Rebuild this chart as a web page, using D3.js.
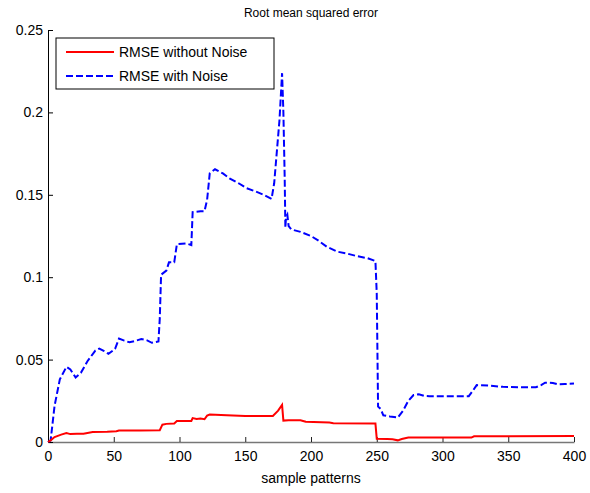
<!DOCTYPE html>
<html>
<head>
<meta charset="utf-8">
<script src="https://cdn.jsdelivr.net/npm/d3@7"></script>
<style>
  body { margin: 0; background: #fff; }
  svg { font-family: "Liberation Sans", Arial, sans-serif; }
</style>
</head>
<body>
<div id="chart"></div>
<script>
// sample index / RMSE pairs
const noiseX = [0, 2, 5, 9, 14, 17, 21, 25, 30, 36, 39, 42, 46, 51, 54, 58, 62, 67, 71, 75, 79, 84, 85, 86, 90, 92, 96, 98, 105, 109, 110, 116, 119, 121, 123, 127, 133, 138, 145, 151, 158, 164, 170, 172, 176, 178, 179, 180, 180.5, 181, 182, 183, 185, 192, 200, 206, 212, 220, 227, 235, 243, 249, 250, 251, 253, 255, 260, 266, 270, 274, 278, 282, 286, 290, 300, 310, 320, 323, 326, 335, 346, 360, 371, 375, 378, 384, 388, 393, 400];
const noiseY = [0, 0.001, 0.022, 0.038, 0.0456, 0.044, 0.0392, 0.042, 0.049, 0.0555, 0.0567, 0.0555, 0.0535, 0.0565, 0.0628, 0.0615, 0.0605, 0.0615, 0.0625, 0.0618, 0.0602, 0.061, 0.075, 0.1015, 0.104, 0.109, 0.109, 0.12, 0.1205, 0.1195, 0.1395, 0.14, 0.14, 0.147, 0.163, 0.1655, 0.163, 0.16, 0.157, 0.154, 0.152, 0.15, 0.1475, 0.157, 0.195, 0.2238, 0.2, 0.16, 0.13, 0.1365, 0.138, 0.131, 0.129, 0.1275, 0.125, 0.122, 0.1185, 0.1155, 0.1144, 0.1128, 0.1115, 0.1098, 0.09, 0.0215, 0.02, 0.0162, 0.0155, 0.0148, 0.019, 0.025, 0.0285, 0.029, 0.028, 0.0278, 0.0278, 0.0278, 0.0278, 0.031, 0.0345, 0.0342, 0.0335, 0.0332, 0.0332, 0.0345, 0.036, 0.0358, 0.035, 0.0352, 0.0355];

const cleanX = [0, 2, 5, 10, 14, 17, 22, 27, 30, 34, 45, 52, 54, 70, 85, 87, 90, 96, 98, 109, 110, 113, 116, 119, 121, 123, 136, 150, 171, 175, 178, 179, 183, 192, 196, 214, 217, 249, 250, 258, 262, 266, 269, 274, 322, 324, 400];
const cleanY = [0, 0.001, 0.003, 0.0045, 0.0055, 0.0048, 0.005, 0.005, 0.0055, 0.006, 0.0062, 0.0065, 0.007, 0.007, 0.0071, 0.0105, 0.011, 0.0112, 0.0127, 0.0128, 0.0145, 0.014, 0.0142, 0.0138, 0.016, 0.0167, 0.0162, 0.0158, 0.0158, 0.019, 0.0225, 0.013, 0.0132, 0.0132, 0.0123, 0.0118, 0.0114, 0.0112, 0.002, 0.0018, 0.0016, 0.001, 0.0018, 0.0027, 0.0027, 0.0035, 0.0036];

const xTicks = [0, 50, 100, 150, 200, 250, 300, 350, 400];
const yTicks = [0, 0.05, 0.1, 0.15, 0.2, 0.25];
const yTickLabels = ['0', '0.05', '0.1', '0.15', '0.2', '0.25'];
const seriesNames = ['RMSE without Noise', 'RMSE with Noise'];

const width = 590, height = 493;
const margin = { top: 30, right: 16, bottom: 51, left: 48 };
const w = width - margin.left - margin.right;
const h = height - margin.top - margin.bottom;

const svg = d3.select('#chart').append('svg')
  .attr('width', width)
  .attr('height', height);

const xScale = d3.scaleLinear().domain([0, 400]).range([0, w]);
const yScale = d3.scaleLinear().domain([0, 0.25]).range([h, 0]);

const g = svg.append('g')
  .attr('transform', `translate(${margin.left}, ${margin.top})`);

// axes with inward ticks, MATLAB-like
const xAxis = g.append('g')
  .attr('transform', `translate(0, ${h})`)
  .call(d3.axisBottom(xScale).tickValues(xTicks).tickSizeInner(-5).tickSizeOuter(0).tickPadding(9));
xAxis.select('.domain').attr('stroke', '#777').attr('stroke-width', 1.6);
xAxis.selectAll('.tick line').attr('stroke', '#222');
xAxis.selectAll('text').attr('font-size', 14).attr('fill', '#000');

const yAxis = g.append('g')
  .call(d3.axisLeft(yScale).tickValues(yTicks).tickFormat((d, i) => yTickLabels[i])
    .tickSizeInner(-5).tickSizeOuter(0).tickPadding(5));
yAxis.select('.domain').attr('stroke', '#000');
yAxis.selectAll('text').attr('font-size', 14).attr('fill', '#000');

const line = d3.line()
  .x(d => xScale(d[0]))
  .y(d => yScale(d[1]));

g.append('path')
  .datum(noiseX.map((x, i) => [x, noiseY[i]]))
  .attr('fill', 'none')
  .attr('stroke', '#0000ff')
  .attr('stroke-width', 2)
  .attr('stroke-dasharray', '7,3')
  .attr('d', line);

g.append('path')
  .datum(cleanX.map((x, i) => [x, cleanY[i]]))
  .attr('fill', 'none')
  .attr('stroke', '#ff0000')
  .attr('stroke-width', 2)
  .attr('d', line);

// title and label
svg.append('text')
  .attr('x', margin.left + w / 2)
  .attr('y', 17)
  .attr('text-anchor', 'middle')
  .attr('font-size', 12)
  .text('Root mean squared error');

svg.append('text')
  .attr('x', margin.left + w / 2)
  .attr('y', 483)
  .attr('text-anchor', 'middle')
  .attr('font-size', 14)
  .text('sample patterns');

// legend
const legend = svg.append('g').attr('transform', 'translate(56, 38)');
legend.append('rect')
  .attr('width', 218).attr('height', 51)
  .attr('fill', '#fff').attr('stroke', '#000');
const legendStyles = [
  { color: '#ff0000', dash: null },
  { color: '#0000ff', dash: '7,3' }
];
seriesNames.forEach((name, i) => {
  const y = 14 + i * 24;
  legend.append('line')
    .attr('x1', 10).attr('x2', 58).attr('y1', y).attr('y2', y)
    .attr('stroke', legendStyles[i].color)
    .attr('stroke-width', 2)
    .attr('stroke-dasharray', legendStyles[i].dash);
  legend.append('text')
    .attr('x', 63).attr('y', y + 5)
    .attr('font-size', 14)
    .text(name);
});
</script>
</body>
</html>
